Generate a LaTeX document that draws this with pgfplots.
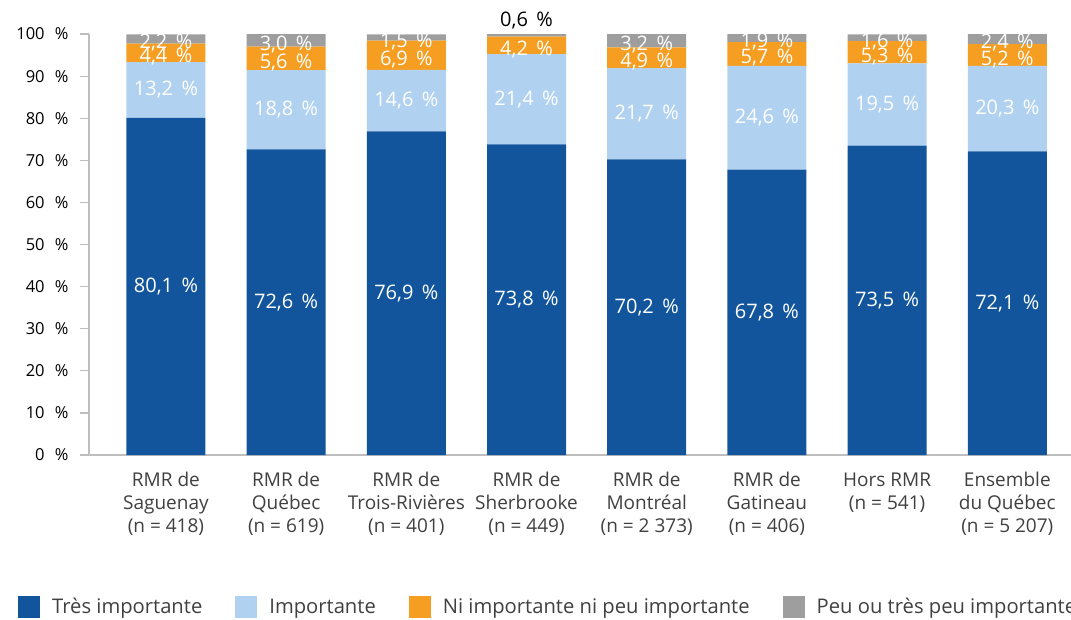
\documentclass[border=0pt]{standalone}
\usepackage{fontspec}
\setmainfont{Open Sans}
\usepackage{pgfplots}
\pgfplotsset{compat=1.18}
\definecolor{cA}{RGB}{18,85,156}
\definecolor{cB}{RGB}{176,210,240}
\definecolor{cC}{RGB}{245,158,34}
\definecolor{cD}{RGB}{158,158,158}
\definecolor{axgray}{RGB}{190,190,190}
\definecolor{txgray}{RGB}{64,64,64}
\newcommand{\pc}{\hspace{0.42em}\%}
\newcommand{\tp}{\hspace{0.62em}\%}
\pgfplotsset{
  sq/.style={legend image code/.code={\fill[##1] (0pt,-11pt) rectangle (22pt,11pt);}},
  lbl/.style={nodes near coords={\pgfmathprintnumber[fixed,fixed zerofill,precision=1,use comma,assume math mode=true]{\pgfplotspointmeta}\pc},
    point meta=explicit,
    every node near coord/.append style={anchor=center, text=white, font=\fontsize{20}{22}\selectfont, inner sep=0pt}},
}
\begin{document}
\begin{tikzpicture}
\useasboundingbox (-89pt,-164pt) rectangle (982pt,455pt);
\begin{axis}[
  at={(0pt,0pt)}, anchor=south west,
  scale only axis, width=982pt, height=421pt,
  ybar stacked, bar width=79pt,
  xmin=-0.64, xmax=7.53, ymin=0, ymax=100,
  clip=false,
  axis lines=left,
  axis line style={-, draw=axgray, line width=1.2pt},
  xtick={0,...,7},
  xticklabels={{RMR de\\Saguenay\\(n = 418)},{RMR de\\Québec\\(n = 619)},{RMR de\\Trois-Rivières\\(n = 401)},{RMR de\\Sherbrooke\\(n = 449)},{RMR de\\Montréal\\(n = 2 373)},{RMR de\\Gatineau\\(n = 406)},{Hors RMR\\(n = 541)},{Ensemble\\du Québec\\(n = 5 207)}},
  xticklabel style={align=center, text=txgray, font=\fontsize{19}{23}\selectfont, anchor=north, yshift=-5pt},
  x tick style={draw=none},
  ytick={0,10,...,100},
  yticklabels={0\tp,10\tp,20\tp,30\tp,40\tp,50\tp,60\tp,70\tp,80\tp,90\tp,100\tp},
  yticklabel style={font=\fontsize{16.5}{20}\selectfont, text=black, xshift=-8pt},
  tick align=outside,
  major tick length=9pt,
  y tick style={draw=axgray, line width=1.2pt},
  legend columns=4,
  legend style={at={(-0.0723,-0.361)}, anchor=west, draw=none, fill=none, inner sep=0pt,
    font=\fontsize{20.2}{22}\selectfont, text=txgray,
    nodes={inner sep=0pt},
    /tikz/every odd column/.append style={column sep=12pt},
    /tikz/every even column/.append style={column sep=33pt}},
  legend cell align=left,
]
\addplot[fill=cA, draw=none, sq, lbl]
  table[x=x,y=y,meta=y]{
x y
0 80.1
1 72.6
2 76.9
3 73.8
4 70.2
5 67.8
6 73.5
7 72.1
};
\addplot[fill=cB, draw=none, sq, lbl]
  table[x=x,y=y,meta=y]{
x y
0 13.2
1 18.8
2 14.6
3 21.4
4 21.7
5 24.6
6 19.5
7 20.3
};
\addplot[fill=cC, draw=none, sq, lbl,
  every node near coord/.append style={yshift=-4pt}]
  table[x=x,y=y,meta=y]{
x y
0 4.4
1 5.6
2 6.9
3 4.2
4 4.9
5 5.7
6 5.3
7 5.2
};
\addplot[fill=cD, draw=none, sq, lbl,
  visualization depends on=\thisrow{dy}\as\dy,
  visualization depends on=value \thisrow{c}\as\tc,
  every node near coord/.append style={text=\tc, shift={(axis direction cs:0,\dy)}}]
  table[x=x,y=y,meta=y]{
x y dy c
0 2.2 -0.9 white
1 3.0 -0.9 white
2 1.5 -0.9 white
3 0.6 3.6 black
4 3.2 -0.9 white
5 1.9 -0.9 white
6 1.6 -0.9 white
7 2.4 -0.9 white
};
\legend{Très importante, Importante, Ni importante ni peu importante, Peu ou très peu importante}
\end{axis}
\end{tikzpicture}
\end{document}
